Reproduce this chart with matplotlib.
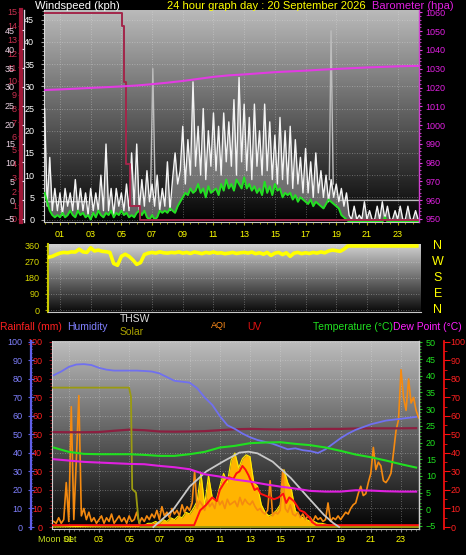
"""24 hour weather graph: wind speed, wind direction, temperature/humidity/solar."""
import numpy as np
import matplotlib
matplotlib.use("Agg")
import matplotlib.pyplot as plt
from matplotlib.colors import to_rgb
from matplotlib.ticker import MultipleLocator

plt.rcParams["font.family"] = ["Liberation Sans", "DejaVu Sans"]

W, H = 466, 555

# ---------------- wind speed panel (10 minute samples, kph) ----------------
wind_gust = [
    25, 3, 14, 2, 7, 2,
    6, 1, 7, 3, 6, 2,
    9, 2, 7, 2, 6, 1,
    7, 2, 6, 2, 10, 2,
    17, 2, 7, 1, 7, 3,
    6, 2, 8, 2, 15, 3,
    17, 2, 9, 3, 11, 4,
    8, 3, 10, 2, 7, 3,
    13, 2, 9, 15, 8, 11,
    21, 8, 18, 10, 31, 12,
    21, 10, 25, 9, 20, 12,
    24, 11, 21, 10, 24, 13,
    22, 12, 27, 10, 32, 13,
    26, 11, 23, 9, 26, 12,
    20, 10, 26, 11, 22, 9,
    19, 8, 23, 9, 20, 8,
    21, 7, 18, 8, 14, 6,
    16, 6, 13, 5, 15, 6,
    11, 5, 10, 4, 9, 5,
    8, 4, 7, 3, 6, 1,
    0, 3, 0, 1, 0, 4,
    0, 2, 0, 0, 3, 0,
    4, 0, 3, 0, 0, 2,
    0, 3, 0, 0, 3, 0,
    0, 2, 0,
]
wind_avg = [
    6, 4, 2, 1, 0.5, 1,
    0.5, 1.5, 0.5, 1, 2, 1,
    0.5, 2, 1, 1.5, 0.5, 1,
    0, 1.5, 0.5, 2, 1, 0.5,
    1.5, 1, 2, 0.5, 1.5, 1,
    2, 1, 1.5, 0.5, 1, 0.5,
    1.5, 2, 1, 2, 0.5, 0,
    1, 0, 0.5, 2, 1.5, 2,
    1.5, 2.5, 2, 1.5, 3, 4,
    5, 6, 5.5, 7, 6, 6.5,
    8, 6, 7, 5, 7.5, 6,
    6.5, 7, 5.5, 8, 6.5, 9,
    7, 8, 6.5, 9, 8, 7,
    9.5, 7, 8, 6.5, 7.5, 6,
    7, 5.5, 8.5, 6, 7.5, 5.5,
    8, 6.5, 7, 5, 6, 5.5,
    6, 4.5, 5.5, 4, 5, 4.5,
    4, 3.5, 4.5, 3, 4, 3.5,
    3, 2.5, 3.5, 4.5, 4, 3.5,
    3, 2.5, 1, 0.5, 0, -0.5,
    -0.5, -0.5, -0.5, -0.5, -0.5, -0.5,
    -0.5, -0.5, -0.5, -0.5, -0.5, -0.5,
    -0.5, 0.5, -0.5, -0.5, -0.5, -0.5,
    -0.5, -0.5, -0.5, -0.5, -0.5, -0.5,
    -0.5, -0.5, -0.5,
]
wind_hours = np.arange(len(wind_gust)) / 6.0

# grey trace: only the visible pieces, NaN separates them
gust_base_hours = [0, 2.8, np.nan, 6.9, 7.05, 7.2, np.nan, 18.55, 18.66, 18.8,
                   np.nan, 19.25, 24.4]
gust_base = [4, 4, np.nan, 5, 34, 6, np.nan, 9, 42.5, 8, np.nan, 4.3, 4.3]

rain_rate_hours = [0, 5.04, 5.15, 5.3, 5.55, 6.2, 24.4]
rain_rate = [46.5, 43.5, 31, 12.5, 3, 0, 0]

baro_hours = list(range(25)) + [24.4]
baro = [1018.7, 1019.0, 1019.4, 1019.8, 1020.2, 1020.6, 1021.1, 1021.8, 1022.6,
        1023.5, 1024.6, 1025.7, 1026.5, 1027.0, 1027.6, 1028.2, 1028.6, 1029.0,
        1029.5, 1029.9, 1030.3, 1030.7, 1031.0, 1031.3, 1031.5, 1031.5]

# ---------------- wind direction panel (15 minute samples, degrees) ----------------
wind_dir = [
    290, 295, 300, 310,
    318, 322, 320, 325,
    324, 340, 325, 322,
    348, 330, 335, 328,
    326, 322, 260, 250,
    300, 312, 300, 280,
    255, 265, 310, 318,
    322, 318, 325, 320,
    318, 322, 320, 325,
    318, 322, 316, 324,
    320, 315, 322, 318,
    324, 318, 320, 315,
    318, 322, 316, 320,
    322, 318, 324, 315,
    320, 312, 322, 305,
    318, 322, 310, 320,
    300, 318, 322, 315,
    320, 316, 322, 318,
    325, 320, 330, 335,
    332, 328, 340, 358,
    358, 358, 358, 358,
    358, 358, 358, 358,
    358, 358, 358, 358,
    358, 358, 358, 358,
    358, 358,
]
dir_hours = np.arange(len(wind_dir)) / 4.0
dir_ticks = [0, 90, 180, 270, 360]
compass = ["N", "E", "S", "W", "N"]

# ---------------- lower panel ----------------
humidity = [82, 84, 86.5, 87.8, 88, 87.5, 86, 85, 84.5, 84.5, 84.5, 84.5, 84.3,
            84, 83, 81, 79, 78.5, 78, 75, 70, 66, 60, 55, 53, 50.5, 48.5, 47,
            46, 45, 43.5, 42, 42.5, 41.5, 41, 40, 42, 45, 48, 50.5, 52.5, 54,
            55.5, 56.5, 57.5, 58, 58.5, 59, 59.5]
hum_hours = np.arange(len(humidity)) * 0.5

temperature = [18.5, 17.2, 16.6, 16.5, 16.5, 16.5, 16.3, 16.0, 16.0, 16.5, 17.2,
               18.5, 19.0, 19.8, 20.0, 20.1, 19.6, 19.2, 18.5, 17.5, 16.4, 15.6,
               14.6, 13.5, 12.5]
dew_point = [15.0, 14.6, 14.2, 14.0, 13.8, 13.6, 13.5, 13.0, 12.6, 12.0, 10.5,
             9.8, 8.9, 8.3, 7.5, 6.8, 6.2, 5.5, 5.3, 5.3, 5.7, 5.6, 5.4, 5.3, 5.3]
rain_total = [51.3, 51.2, 51.2, 51.3, 52.0, 52.6, 52.3, 51.6, 51.5, 51.6, 51.8,
              52.3, 52.8, 53.0, 52.8, 52.7, 52.8, 52.9, 53.0, 53.0, 53.2, 53.3,
              53.3, 53.3, 53.4]
hourly = np.arange(25)

solar_line_hours = [-0.1, 4.99, 5.12, 5.2, 5.45, 5.6, 5.75, 24.2]
solar_line = [75.3, 75.3, 70.4, 20.5, 18.6, 5, 0, 0]

thsw_hours = [6.6, 7.9, 9.0, 10.1, 11.2, 12.3, 12.9, 13.5, 14.5, 15.7, 16.8,
              17.9, 18.5, 18.9]
thsw = [0, 9.2, 21.8, 30, 35.3, 40.2, 40.7, 39.8, 35.3, 26.5, 16.4, 6.5, 2.2, 0]

radiation_hours = [-0.1] + list(np.arange(6.0, 19.01, 0.25)) + [24.2]
radiation = [0,
             1, 2, 2, 3, 2, 4, 3, 5, 4, 6, 5, 8, 7, 10, 14, 29, 12, 28, 16, 14,
             22, 29, 24, 36, 40, 32, 37, 39, 38, 24, 22, 12, 8, 6, 7, 9, 12, 31,
             24, 20, 9, 6, 5, 4, 3, 3, 2, 2, 1.5, 1, 1, 0.5, 0.5,
             0]

uv_hours = [-0.1, 9.3, 9.7, 10.1, 10.5, 10.8, 11.0, 11.3, 11.6, 11.9, 12.1,
            12.3, 12.5, 12.7, 12.9, 13.1, 13.3, 13.5, 13.7, 14.0, 14.3, 14.6,
            14.9, 15.2, 15.4, 15.6, 15.9, 16.3, 16.6, 16.9, 17.1, 17.4, 24.2]
uv = [1, 1, 9, 12, 16, 14, 20, 24, 27, 26, 29, 30, 33, 31, 28, 24, 20, 21, 18,
      17, 16, 15, 16, 18, 13, 16, 14, 9, 8, 5.4, 2.7, 1, 1]

aqi = [
    3, 2, 5, 2, 4, 24,
    3, 65, 4, 36, 71, 6,
    10, 4, 8, 3, 5, 2,
    4, 6, 2, 5, 3, 7,
    2, 4, 6, 3, 5, 2,
    6, 3, 4, 8, 2, 5,
    3, 6, 4, 7, 5, 9,
    4, 11, 6, 8, 5, 10,
    7, 9, 6, 12, 8, 11,
    9, 13, 30, 10, 14, 12,
    9, 15, 11, 13, 10, 16,
    12, 14, 10, 15, 12, 13,
    14, 11, 16, 12, 15, 13,
    12, 14, 11, 9, 10, 8,
    7, 9, 25, 6, 8, 7,
    9, 31, 10, 8, 12, 7,
    6, 8, 5, 7, 4, 6,
    5, 3, 6, 4, 5, 3,
    4, 13, 3, 5, 4, 6,
    4, 6, 8, 7, 10, 12,
    13, 18, 22, 17, 18, 24,
    29, 43, 31, 35, 33, 25,
    24, 26, 29, 40, 52, 58,
    85, 70, 63, 80, 67, 70,
    63, 59,
]
aqi_hours = np.arange(len(aqi)) / 6.0

hour_ticks = list(range(1, 24, 2))
hour_labels = [f"{h:02d}" for h in hour_ticks]


def frac(x, y):
    return x / W, 1 - y / H


def gradient(rect, top, bottom):
    bg = fig.add_axes(rect, zorder=-5)
    bg.axis("off")
    g = np.linspace(0, 1, 256)[:, None, None]
    c0 = np.array(to_rgb(top))
    c1 = np.array(to_rgb(bottom))
    bg.imshow(c0 + (c1 - c0) * g, aspect="auto", extent=[0, 1, 0, 1],
              origin="upper", interpolation="bilinear")


def side_axis(parent, side, pos, color, lw=1.0):
    a = parent.twinx()
    for s in ("top", "bottom", "left", "right"):
        a.spines[s].set_visible(False)
    a.spines[side].set_visible(True)
    a.spines[side].set_position(("axes", pos))
    a.spines[side].set_color(color)
    a.spines[side].set_linewidth(lw)
    a.yaxis.set_ticks_position(side)
    a.yaxis.set_label_position(side)
    a.patch.set_visible(False)
    return a


fig = plt.figure(figsize=(W / 100, H / 100), dpi=100, facecolor="black")

grid_kw = dict(color="#e6e6e6", linestyle=(0, (1, 2)), linewidth=0.6, alpha=0.45)

# ================= top: wind speed + barometer =================
top_rect = [44 / W, 1 - 222 / H, 375 / W, 212 / H]
gradient(top_rect, "#bababa", "#030303")
ax1 = fig.add_axes(top_rect)
ax1.set_facecolor("none")
ax1.set_xlim(-0.04, 24.39)
ax1.set_ylim(-0.56, 47.2)
ax1.set_yticks(range(0, 50, 5))
ax1.yaxis.set_minor_locator(MultipleLocator(1))
ax1.set_xticks(hour_ticks)
ax1.set_xticklabels(hour_labels)
ax1.xaxis.set_minor_locator(MultipleLocator(0.5))
ax1.grid(True, **grid_kw)
ax1.tick_params(axis="y", colors="#a0a0a0", labelcolor="white", labelsize=6.5,
                length=2.5, pad=4.5)
ax1.tick_params(axis="y", which="minor", colors="#a0a0a0", length=1.5)
ax1.tick_params(axis="x", colors="#b0b000", labelcolor="#ffff00", labelsize=6.5,
                length=2, pad=4)
ax1.tick_params(axis="x", which="minor", colors="#b0b000", length=1.2)
for s in ("top", "right"):
    ax1.spines[s].set_visible(False)
ax1.spines["left"].set_color("#d8d8d8")
ax1.spines["bottom"].set_color("#c8c8c8")

ax1.fill_between(wind_hours, wind_avg, wind_gust, color="#d0d0d0", alpha=0.45,
                 lw=0, zorder=2)
ax1.plot(gust_base_hours, gust_base, color="#bdbdbd", lw=1.0, zorder=2.5)
ax1.plot(wind_hours, wind_gust, color="#f4f4f4", lw=1.0, zorder=3)
ax1.plot(wind_hours, wind_avg, color="#22e022", lw=1.4, zorder=4)
ax1.step(rain_rate_hours, rain_rate, where="post", color="#a3264a", lw=1.4, zorder=5)

ax_b = side_axis(ax1, "right", 1.0, "#d040d0")
ax_b.set_ylim(948.4, 1061.3)
ax_b.set_yticks(range(950, 1061, 10))
ax_b.yaxis.set_minor_locator(MultipleLocator(2))
ax_b.tick_params(axis="y", colors="#e040e0", labelcolor="#e020e0", labelsize=6.5,
                 length=2.5, pad=2)
ax_b.tick_params(axis="y", which="minor", colors="#e040e0", length=1.5)
ax_b.plot(baro_hours, baro, color="#e23be2", lw=1.5, zorder=5)

ax_rain = side_axis(ax1, "left", (21 - 44) / 375, "#a01838", lw=3)
ax_rain.set_ylim(-0.22, 15.14)
ax_rain.set_yticks(range(0, 16))
ax_rain.yaxis.set_minor_locator(MultipleLocator(0.5))
ax_rain.tick_params(axis="y", colors="#a01838", labelcolor="#c8304f", labelsize=6.5,
                    length=2, pad=1)
ax_rain.tick_params(axis="y", which="minor", colors="#a01838", length=1.2)

ax_tl = side_axis(ax1, "left", (24 - 44) / 375, "#e8d8e8", lw=1)
ax_tl.set_ylim(-5.8, 50.4)
ax_tl.set_yticks(range(-5, 50, 5))
ax_tl.tick_params(axis="y", colors="#e8d8e8", labelcolor="#e8d0e0", labelsize=6.5,
                  length=1.5, pad=5)

fig.text(*frac(35, 6), "Windspeed (kph)", color="white", fontsize=8, va="center")
fig.text(*frac(266, 6), "24 hour graph day : 20 September 2026", color="#ffff00",
         fontsize=8, va="center", ha="center")
fig.text(*frac(372, 6), "Barometer (hpa)", color="#e020e0", fontsize=8, va="center")

# ================= middle: wind direction =================
mid_rect = [48 / W, 1 - 312 / H, 373 / W, 68 / H]
gradient(mid_rect, "#d2d2d2", "#0a0a0a")
ax2 = fig.add_axes(mid_rect)
ax2.set_facecolor("none")
ax2.set_xlim((48 - 44.6) / 15.35, (421 - 44.6) / 15.35)
ax2.set_ylim(-11, 369)
ax2.set_yticks(dir_ticks)
ax2.yaxis.set_minor_locator(MultipleLocator(22.5))
ax2.set_xticks(hour_ticks)
ax2.set_xticklabels([])
ax2.tick_params(axis="x", length=0)
ax2.grid(True, **grid_kw)
ax2.tick_params(axis="y", colors="#a8a800", labelcolor="#d8d800", labelsize=6.5,
                length=2, pad=4)
ax2.tick_params(axis="y", which="minor", colors="#a8a800", length=1.2)
for s in ("top", "right"):
    ax2.spines[s].set_visible(False)
ax2.spines["left"].set_color("#c8c800")
ax2.spines["left"].set_linewidth(1.5)
ax2.spines["bottom"].set_color("#c8c8c8")
ax2.plot(dir_hours, wind_dir, color="#ffff00", lw=2.6, solid_joinstyle="round", zorder=3)
for d, c in zip(dir_ticks, compass):
    ax2.text((438 - 48) / 373, d, c, color="#ffff00", fontsize=9, ha="center",
             va="center", transform=ax2.get_yaxis_transform())

# ================= bottom: temperature / humidity / solar =================
fig.text(*frac(0, 327), "Rainfall (mm)", color="#ff2020", fontsize=7.5, va="center")
fig.text(*frac(67, 327), "Humidity", color="#8080ff", fontsize=7.5, va="center")
fig.text(*frac(120, 319), "THSW", color="#dcdcdc", fontsize=7.5, va="center")
fig.text(*frac(120, 332), "Solar", color="#a8a000", fontsize=7.5, va="center")
fig.text(*frac(211, 326), "AQI", color="#ff8c1a", fontsize=6.5, va="center")
fig.text(*frac(247, 327), "UV", color="#e01010", fontsize=7.5, va="center")
fig.text(*frac(313, 327), "Temperature (°C)", color="#20e020", fontsize=7.5, va="center")
fig.text(*frac(393, 327), "Dew Point (°C)", color="#ff20ff", fontsize=7.5, va="center")

bot_rect = [52 / W, 1 - 529 / H, 367 / W, 188 / H]
gradient(bot_rect, "#bdbdbd", "#020202")
ax3 = fig.add_axes(bot_rect)
ax3.set_facecolor("none")
ax3.set_xlim(-0.11, 24.19)
ax3.set_ylim(-1.08, 100.5)
ax3.set_yticks(range(0, 101, 10))
ax3.yaxis.set_minor_locator(MultipleLocator(2))
ax3.set_xticks(hour_ticks)
ax3.set_xticklabels(hour_labels)
ax3.xaxis.set_minor_locator(MultipleLocator(1 / 3))
ax3.grid(True, **grid_kw)
ax3.tick_params(axis="y", colors="#a01020", labelcolor="#ff2020", labelsize=6.5,
                length=2, pad=5)
ax3.tick_params(axis="y", which="minor", colors="#a01020", length=1.2)
ax3.tick_params(axis="x", colors="#909090", labelcolor="#ffff00", labelsize=6.5,
                length=2, pad=2.5)
ax3.tick_params(axis="x", which="minor", colors="#909090", length=1.2)
ax3.spines["top"].set_visible(False)
for s in ("left", "right", "bottom"):
    ax3.spines[s].set_color("#d0d0d0")

ax3.fill_between(radiation_hours, 0, radiation, color="#ffb400", lw=0, zorder=2)
ax3.plot(radiation_hours, radiation, color="#ffee00", lw=0.8, zorder=2.1)
ax3.plot(aqi_hours, aqi, color="#f58a10", lw=1.2, zorder=2.5)
ax3.plot(hourly, rain_total, color="#8c1f40", lw=1.6, zorder=3)
ax3.plot(hum_hours, humidity, color="#7070f0", lw=1.3, zorder=3)
ax3.plot(solar_line_hours, solar_line, color="#9a9a10", lw=1.3, zorder=3)
ax3.plot(uv_hours, uv, color="#ff1010", lw=1.4, zorder=4)
ax3.plot(thsw_hours, thsw, color="#c8c8c8", lw=1.3, zorder=4)

ax_hum = side_axis(ax3, "left", (31 - 52) / 367, "#6060e8", lw=1.6)
ax_hum.set_ylim(-1.08, 100.5)
ax_hum.set_yticks(range(0, 101, 10))
ax_hum.yaxis.set_minor_locator(MultipleLocator(2))
ax_hum.tick_params(axis="y", colors="#6060e8", labelcolor="#8080ff", labelsize=6.5,
                   length=4, direction="inout", pad=4)
ax_hum.tick_params(axis="y", which="minor", colors="#6060e8", length=2, direction="inout")

ax_t = side_axis(ax3, "right", 1.0, "#d0d0d0")
ax_t.set_ylim(-5.9, 50.4)
ax_t.set_yticks(range(-5, 51, 5))
ax_t.yaxis.set_minor_locator(MultipleLocator(1))
ax_t.tick_params(axis="y", colors="#20c020", labelcolor="#20e020", labelsize=6.5,
                 length=2.5, pad=2.5)
ax_t.tick_params(axis="y", which="minor", colors="#20c020", length=1.3)
ax_t.plot(hourly, temperature, color="#20e020", lw=1.5, zorder=3)
ax_t.plot(hourly, dew_point, color="#e020e0", lw=1.5, zorder=3)

ax_uv = side_axis(ax3, "right", 1 + (443.5 - 419) / 367, "#ff1010", lw=1.2)
ax_uv.set_ylim(-1.08, 100.5)
ax_uv.set_yticks(range(0, 101, 10))
ax_uv.yaxis.set_minor_locator(MultipleLocator(5))
ax_uv.tick_params(axis="y", colors="#ff1010", labelcolor="#ff2020", labelsize=6.5,
                  length=4, pad=1)
ax_uv.tick_params(axis="y", which="minor", colors="#ff1010", length=2)

fig.text(*frac(38, 540), "Moon Set", color="#c8e020", fontsize=6.5, va="center")

fig.savefig("out.png", dpi=100, facecolor="black")
